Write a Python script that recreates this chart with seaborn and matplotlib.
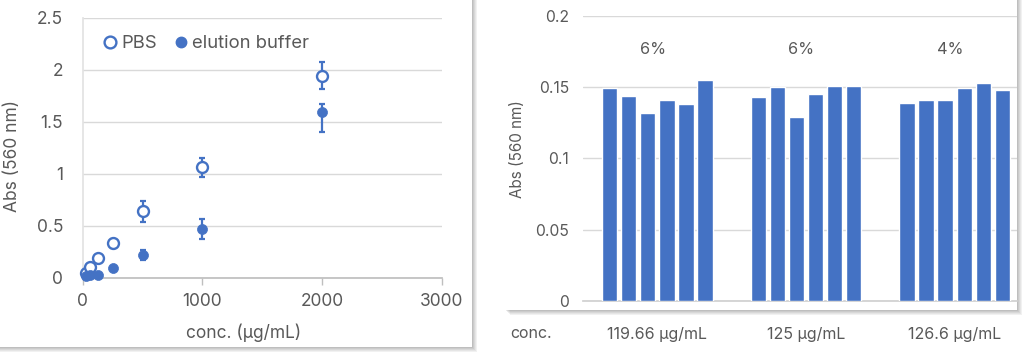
import numpy as np
import pandas as pd
import matplotlib.pyplot as plt
from matplotlib.patches import Rectangle
from matplotlib.lines import Line2D
import seaborn as sns

sns.set_theme(style="white")
plt.rcParams['font.family'] = ['Inter', 'DejaVu Sans']

BLUE = '#4472C4'
TXT = '#595959'
GRID = '#D9D9D9'

# left chart: standard curve
conc = [31.25, 62.5, 125, 250, 500, 1000, 2000]
pbs_abs = [0.045, 0.10, 0.185, 0.33, 0.64, 1.06, 1.94]
pbs_err = [0.01, 0.01, 0.02, 0.04, 0.10, 0.09, 0.13]
elution_abs = [0.02, 0.025, 0.028, 0.095, 0.22, 0.47, 1.59]
elution_err_lo = [0.01, 0.01, 0.01, 0.01, 0.05, 0.10, 0.19]
elution_err_hi = [0.01, 0.01, 0.01, 0.01, 0.05, 0.09, 0.08]
left_yticks = [0, 0.5, 1, 1.5, 2, 2.5]
left_ylabels = ['0', '0.5', '1', '1.5', '2', '2.5']
left_xticks = [0, 1000, 2000, 3000]

# right chart: replicate absorbances
groups = ['119.66 μg/mL', '125 μg/mL', '126.6 μg/mL']
group1 = [0.149, 0.144, 0.132, 0.141, 0.138, 0.155]
group2 = [0.143, 0.150, 0.129, 0.145, 0.1505, 0.151]
group3 = [0.139, 0.141, 0.141, 0.149, 0.153, 0.148]
cv_labels = ['6%', '6%', '4%']
right_yticks = [0, 0.05, 0.1, 0.15, 0.2]
right_ylabels = ['0', '0.05', '0.1', '0.15', '0.2']

W, H = 1031, 356
fig = plt.figure(figsize=(W / 100, H / 100), dpi=100)
fig.patch.set_facecolor('white')


def box(x0, y0, x1, y1):
    # pixel box (top-left origin) -> figure fraction rect
    return [x0 / W, 1 - y1 / H, (x1 - x0) / W, (y1 - y0) / H]


def card(x0, y0, x1, y1):
    for i, a in enumerate([0.10, 0.10, 0.12, 0.14, 0.16]):
        off = 5 - i
        fig.patches.append(Rectangle(((x0 + off) / W, 1 - (y1 + off) / H),
                                     (x1 - x0) / W, (y1 - y0) / H,
                                     transform=fig.transFigure, facecolor='#7f7f7f',
                                     alpha=a, edgecolor='none', zorder=-3))
    fig.patches.append(Rectangle((x0 / W, 1 - y1 / H), (x1 - x0) / W, (y1 - y0) / H,
                                 transform=fig.transFigure, facecolor='white',
                                 edgecolor='none', zorder=-2))


card(-10, -10, 472, 347)
card(505, -10, 1017, 310)

# ---- left scatter ----
ax1 = fig.add_axes(box(82.7, 17.7, 441.7, 277.7))
ax1.set_facecolor('none')
ax1.errorbar(conc, pbs_abs, yerr=pbs_err, fmt='none', ecolor=BLUE,
             elinewidth=1.6, capsize=2.5, capthick=1.6, zorder=3, clip_on=False)
ax1.errorbar(conc, elution_abs, yerr=[elution_err_lo, elution_err_hi], fmt='none',
             ecolor=BLUE, elinewidth=1.6, capsize=2.5, capthick=1.6, zorder=3,
             clip_on=False)
sns.scatterplot(x=conc, y=pbs_abs, ax=ax1, marker='o', s=62, facecolor='white',
                edgecolor=BLUE, linewidth=1.7, zorder=4, clip_on=False)
sns.scatterplot(x=conc, y=elution_abs, ax=ax1, marker='o', s=52, color=BLUE,
                edgecolor=BLUE, linewidth=0.5, zorder=5, clip_on=False)
ax1.set_xlim(0, 3000)
ax1.set_ylim(0, 2.5)
ax1.set_xticks(left_xticks)
ax1.set_xticklabels([str(t) for t in left_xticks])
ax1.set_yticks(left_yticks)
ax1.set_yticklabels(left_ylabels)
ax1.grid(axis='y', color=GRID, linewidth=1)
ax1.set_axisbelow(True)
for s in ['top', 'right']:
    ax1.spines[s].set_visible(False)
ax1.spines['bottom'].set_color('#BFBFBF')
ax1.spines['left'].set_color('#E3E3E3')
ax1.tick_params(axis='x', length=5, width=1, color='#BFBFBF', pad=6,
                labelsize=12.5, labelcolor=TXT, bottom=True)
ax1.tick_params(axis='y', length=0, pad=14, labelsize=12.5, labelcolor=TXT)
ax1.set_xlabel('')
ax1.set_ylabel('')

handles = [Line2D([], [], marker='o', linestyle='none', markersize=8.5,
                  markerfacecolor='white', markeredgecolor=BLUE, markeredgewidth=1.7),
           Line2D([], [], marker='o', linestyle='none', markersize=7.5,
                  markerfacecolor=BLUE, markeredgecolor=BLUE)]
ax1.legend(handles, ['PBS', 'elution buffer'], ncol=2, loc='center left',
           bbox_to_anchor=(0.055, 0.899), frameon=False, borderpad=0,
           borderaxespad=0, handlelength=0.8, handletextpad=0.2,
           columnspacing=0.9, fontsize=13.3, labelcolor=TXT)

fig.text(244 / W, 1 - 333 / H, 'conc. (μg/mL)', ha='center', va='center',
         fontsize=12.5, color=TXT)
fig.text(13 / W, 1 - 156 / H, 'Abs (560 nm)', ha='center', va='center',
         rotation=90, fontsize=12.5, color=TXT)

# ---- right bars ----
bars = pd.DataFrame({
    'group': np.repeat(groups, 6),
    'rep': list(range(1, 7)) * 3,
    'value': group1 + group2 + group3,
})
ax2 = fig.add_axes(box(583, 15.7, 1017, 301))
ax2.set_facecolor('none')
sns.barplot(data=bars, x='group', y='value', hue='rep', palette=[BLUE] * 6,
            width=0.77, gap=0.2, saturation=1, errorbar=None, legend=False,
            ax=ax2, zorder=3)
ax2.set_xlim(-0.5, 2.5 - 12 / 148.7)
ax2.set_ylim(0, 0.2)
ax2.set_yticks(right_yticks)
ax2.set_yticklabels(right_ylabels)
ax2.grid(axis='y', color=GRID, linewidth=1)
ax2.set_axisbelow(True)
for s in ['top', 'right', 'left']:
    ax2.spines[s].set_visible(False)
ax2.spines['bottom'].set_color('#D0D0D0')
ax2.tick_params(axis='x', length=0, pad=19, labelsize=11.5, labelcolor=TXT)
ax2.tick_params(axis='y', length=0, pad=10, labelsize=11.3, labelcolor=TXT)
ax2.set_xlabel('')
ax2.set_ylabel('')
for i, lab in enumerate(cv_labels):
    ax2.text(i - 0.03, 0.176, lab, ha='center', va='center', fontsize=11.7, color=TXT)

fig.text(531 / W, 1 - 333 / H, 'conc.', ha='center', va='center',
         fontsize=11.5, color=TXT)
fig.text(518 / W, 1 - 149 / H, 'Abs (560 nm)', ha='center', va='center',
         rotation=90, fontsize=11, color=TXT)

fig.savefig('out.png', dpi=100, facecolor='white')
